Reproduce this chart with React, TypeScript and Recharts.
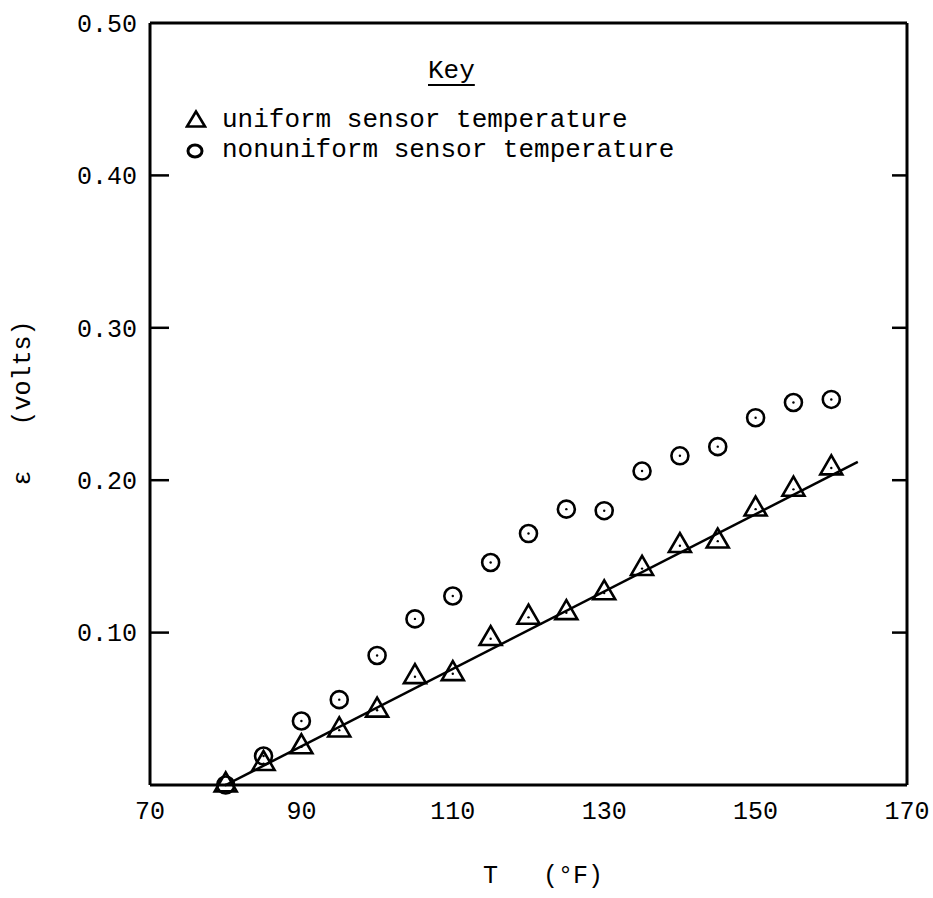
import { ScatterChart, Scatter, XAxis, YAxis } from 'recharts';

// T (°F) readings, shared by both sensor runs
const temps = [80, 85, 90, 95, 100, 105, 110, 115, 120, 125, 130, 135, 140, 145, 150, 155, 160];
// ε (volts), uniform sensor temperature
const uniformVolts = [0.0, 0.014, 0.025, 0.036, 0.049, 0.071, 0.073, 0.096, 0.11, 0.113, 0.126, 0.142, 0.157, 0.16, 0.181, 0.194, 0.208];
// ε (volts), nonuniform sensor temperature
const nonuniformVolts = [0.0, 0.019, 0.042, 0.056, 0.085, 0.109, 0.124, 0.146, 0.165, 0.181, 0.18, 0.206, 0.216, 0.222, 0.241, 0.251, 0.253];
// straight line through the uniform run
const fitTemps = [80, 163.5];
const fitVolts = [0, 0.212];

const xLabelTicks = [70, 90, 110, 130, 150, 170];
const xInnerTicks = [90, 110, 130, 150];
const yLabelTicks = [0.1, 0.2, 0.3, 0.4, 0.5];
const yInnerTicks = [0.1, 0.2, 0.3, 0.4];

const uniform = temps.map((t, i) => ({ t, v: uniformVolts[i] }));
const nonuniform = temps.map((t, i) => ({ t, v: nonuniformVolts[i] }));
const fit = fitTemps.map((t, i) => ({ t, v: fitVolts[i] }));

const FONT = '"Liberation Mono", "DejaVu Sans Mono", monospace';
const INK = '#000';
const frame = { stroke: INK, strokeWidth: 3 };
const tickMark = { stroke: INK, strokeWidth: 2.5 };
const tickText = { fontSize: 25, fill: INK, fontFamily: FONT };

// tick marks only, no text
const NoLabel = () => <g />;

const Triangle = (props: any) => {
  const { cx, cy } = props;
  if (cx == null || cy == null) return <g />;
  const w = 22;
  const h = 19;
  const pts = `${cx},${cy - (2 * h) / 3} ${cx - w / 2},${cy + h / 3} ${cx + w / 2},${cy + h / 3}`;
  return (
    <g>
      <polygon points={pts} fill="none" stroke={INK} strokeWidth={2.6} strokeLinejoin="miter" />
      <circle cx={cx} cy={cy} r={1.2} fill={INK} />
    </g>
  );
};

const Ring = (props: any) => {
  const { cx, cy } = props;
  if (cx == null || cy == null) return <g />;
  return (
    <g>
      <circle cx={cx} cy={cy} r={8.5} fill="none" stroke={INK} strokeWidth={2.6} />
      <circle cx={cx} cy={cy} r={1.2} fill={INK} />
    </g>
  );
};

const Nothing = () => <g />;

const textStyle = {
  position: 'absolute' as const,
  fontFamily: FONT,
  fontSize: 26,
  color: INK,
  whiteSpace: 'pre' as const,
  lineHeight: '30px',
};

export default function App() {
  return (
    <div style={{ position: 'absolute', left: 0, top: 0, width: 933, height: 898, background: '#fff' }}>
      <ScatterChart width={933} height={898} margin={{ top: 23, right: 26, bottom: 53, left: 70 }}>
        {/* labelled axes */}
        <XAxis
          xAxisId="x"
          type="number"
          dataKey="t"
          domain={[70, 170]}
          ticks={xLabelTicks}
          height={60}
          tickSize={0}
          tickMargin={16}
          tickLine={false}
          axisLine={frame}
          tick={tickText}
        />
        <YAxis
          yAxisId="y"
          type="number"
          dataKey="v"
          domain={[0, 0.5]}
          ticks={yLabelTicks}
          width={80}
          tickSize={0}
          tickMargin={13}
          tickLine={false}
          axisLine={frame}
          tick={tickText}
          tickFormatter={(v: number) => v.toFixed(2)}
        />
        {/* inward tick marks on all four sides */}
        <XAxis xAxisId="xb" type="number" domain={[70, 170]} allowDataOverflow ticks={xInnerTicks} mirror tick={NoLabel} axisLine={false} tickSize={17} tickLine={tickMark} />
        <XAxis xAxisId="xt" orientation="top" type="number" domain={[70, 170]} allowDataOverflow ticks={xInnerTicks} mirror tick={NoLabel} axisLine={frame} tickSize={17} tickLine={tickMark} />
        <YAxis yAxisId="yl" type="number" domain={[0, 0.5]} allowDataOverflow ticks={yInnerTicks} mirror tick={NoLabel} axisLine={false} tickSize={19} tickLine={tickMark} />
        <YAxis yAxisId="yr" orientation="right" type="number" domain={[0, 0.5]} allowDataOverflow ticks={yInnerTicks} mirror tick={NoLabel} axisLine={frame} tickSize={15} tickLine={tickMark} />

        <Scatter xAxisId="x" yAxisId="y" data={fit} line={{ stroke: INK, strokeWidth: 2.5 }} shape={Nothing} isAnimationActive={false} />
        <Scatter xAxisId="x" yAxisId="y" data={nonuniform} shape={Ring} isAnimationActive={false} />
        <Scatter xAxisId="x" yAxisId="y" data={uniform} shape={Triangle} isAnimationActive={false} />
      </ScatterChart>

      {/* key */}
      <div style={{ ...textStyle, left: 428, top: 56, textDecoration: 'underline', textUnderlineOffset: 6 }}>Key</div>
      <svg style={{ position: 'absolute', left: 185, top: 109 }} width={22} height={20}>
        <polygon points="11,2.5 2,17.5 20,17.5" fill="none" stroke={INK} strokeWidth={2.6} />
      </svg>
      <div style={{ ...textStyle, left: 222, top: 105 }}>uniform sensor temperature</div>
      <svg style={{ position: 'absolute', left: 185, top: 142 }} width={20} height={18}>
        <ellipse cx={10} cy={9} rx={7} ry={6} fill="none" stroke={INK} strokeWidth={3} />
      </svg>
      <div style={{ ...textStyle, left: 222, top: 135 }}>nonuniform sensor temperature</div>

      {/* axis titles */}
      <div style={{ ...textStyle, fontSize: 25, left: 483, top: 862 }}>T   (°F)</div>
      <div
        style={{
          ...textStyle,
          fontSize: 25,
          left: 24,
          top: 403,
          transform: 'translate(-50%, -50%) rotate(-90deg)',
        }}
      >
        ε   (volts)
      </div>
    </div>
  );
}
